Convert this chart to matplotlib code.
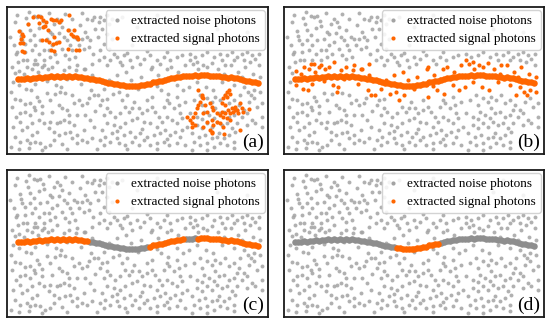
import numpy as np
import matplotlib
matplotlib.use("Agg")
import matplotlib.pyplot as plt
from matplotlib.lines import Line2D

plt.rcParams['font.family'] = ['Liberation Serif', 'DejaVu Serif']

# panel coordinates in pixels: x to the right, y downward from the top of the frame
noise_pts = [
    # upper left
    (13,24),(14,29),(15,33),(18,37),(21,17),(23,23),(27,9),(30,10),(33,9),(36,14),(37,19),(32,21),
    (27,28),(23,33),(33,33),(40,32),(43,25),(47,17),(50,12),(53,15),(55,20),(50,35),(45,38),(42,43),
    (37,43),(32,47),(25,43),(18,45),(16,53),(20,53),(28,53),(37,53),(48,47),(55,42),(60,33),(62,23),
    (67,30),(70,32),(75,32),(80,30),(83,33),(80,12),(85,13),(87,10),(72,38),(77,42),(82,40),(65,43),
    (62,52),(58,48),(43,50),(8,15),(10,45),(5,60),(65,12),(73,18),(88,22),(70,58),(85,57),(45,60),
    (25,62),(12,64),(57,63),(78,62),(35,60),(3,30),(6,75),(4,85),(5,100),(6,120),(4,140),
    (10,8),(19,11),(42,6),(58,7),(75,6),(91,30),(7,38),(28,38),(52,26),(68,50),(86,47),(11,55),
    (30,57),(50,55),(22,5),(45,27),(57,30),(78,25),(92,15),(63,38),(20,60),(9,47),(8,66),
    # upper middle / under legend
    (93,10),(97,13),(100,8),(102,17),(105,12),(95,22),(100,27),(105,32),(97,37),(93,43),(102,42),
    (107,47),(97,50),(103,53),(110,50),(117,48),(123,53),(130,50),(137,52),(143,48),(150,53),(157,50),
    (163,53),(170,50),(175,48),(113,55),(133,57),(153,57),(100,58),(92,53),(115,10),(130,20),(150,8),
    (165,30),(185,15),(200,35),(220,10),(240,25),(125,38),(210,22),
    (115,58),(125,60),(145,60),(160,62),(178,58),(200,60),(218,58),(238,60),(252,58),(205,56),
    (183,53),(160,45),(140,44),(120,46),(252,47),
    # upper right
    (183,47),(188,50),(195,48),(200,45),(207,50),(213,47),(220,48),(225,45),(230,50),(235,47),
    (240,45),(245,48),(248,52),(227,53),(237,53),(243,55),(190,55),(215,53),
    # around the track
    (19,82),(24,83),(27,57),(37,58),(41,62),(31,65),(17,67),(12,78),(49,78),(54,80),(62,60),(69,63),
    (77,62),(74,77),(84,83),(91,88),(97,82),(102,73),(106,87),(112,85),(119,65),(124,73),(131,82),
    (134,70),(139,77),(144,62),(151,68),(154,83),(161,87),(157,72),(164,60),(171,65),(176,83),
    (182,80),(186,57),(191,62),(196,58),(199,80),(206,83),(211,62),(217,67),(224,58),(227,78),
    (231,65),(237,80),(241,85),(244,88),(246,67),(247,83),
    (85,68),(95,75),(110,68),(150,79),(170,78),(190,75),(215,75),(235,70),(253,70),(40,74),
    (28,77),(60,72),(8,92),(30,90),(65,88),(120,88),(145,90),(170,90),(208,90),(233,88),
    # lower left
    (13,93),(18,97),(23,96),(27,100),(32,94),(35,99),(40,86),(43,93),(48,87),(53,85),(58,86),(52,98),
    (55,101),(60,103),(67,96),(72,93),(75,98),(80,96),(82,91),(87,88),(13,106),(18,105),(23,108),
    (28,103),(35,106),(32,113),(25,116),(20,120),(15,123),(13,115),(37,116),(43,115),(42,121),
    (47,125),(50,116),(53,115),(57,113),(62,115),(67,118),(63,125),(58,126),(52,128),(70,128),
    (77,123),(80,135),(75,133),(70,136),(65,131),(47,133),(43,138),(38,140),(33,136),(28,135),
    (23,136),(20,133),(13,135),(22,141),(83,113),(87,120),(85,131),
    (9,110),(8,130),(30,125),(55,137),(62,108),(78,108),(88,104),(45,105),(25,128),(70,108),
    (60,142),(35,143),(12,142),(90,142),
    # lower middle
    (93,98),(95,93),(100,101),(97,108),(103,105),(108,110),(113,106),(118,100),(122,105),(125,101),
    (127,95),(132,101),(135,106),(140,103),(145,100),(148,105),(152,110),(157,100),(162,96),(167,101),
    (172,98),(173,106),(175,111),(170,116),(165,113),(160,110),(155,115),(150,120),(143,116),
    (137,115),(130,111),(125,113),(118,116),(113,120),(107,118),(100,116),(95,123),(98,130),
    (105,126),(110,131),(117,128),(123,125),(128,130),(133,126),(140,130),(147,128),(153,126),
    (158,123),(163,128),(168,125),(173,130),(170,136),(162,138),(157,135),(150,136),(143,138),
    (137,133),(132,138),(125,135),(118,138),(112,136),(103,135),(97,138),(93,133),
    (115,93),(140,93),(160,93),(178,95),(100,92),(110,124),(135,122),(160,132),(175,123),
    (120,142),(150,142),(178,138),(180,120),
    # lower right
    (187,93),(193,88),(195,98),(200,91),(205,95),(208,101),(213,93),(218,88),(222,96),(227,93),
    (232,98),(237,103),(242,95),(247,91),(250,100),(255,96),(183,106),(190,110),(197,105),(202,108),
    (207,111),(212,106),(217,105),(222,110),(227,108),(230,103),(235,110),(240,106),(245,113),
    (248,116),(190,118),(195,121),(200,116),(205,120),(210,115),(215,118),(220,116),(225,121),
    (230,116),(240,118),(185,126),(192,130),(198,128),(205,131),(212,126),(217,131),(222,128),
    (227,135),(187,135),(193,138),(200,136),(207,140),(213,136),(220,138),(227,141),
    (255,110),(253,85),(255,120),(200,143),(185,143),(195,112),(228,125),(210,130),
]

# ground track (signal band)
track_x = [11,14,17,20,23,26,29,32,35,38,41,44,47,50,53,56,59,62,65,68,71,74,77,80,83,86,89,
           92,95,98,101,104,107,110,113,116,119,122,125,128,131,134,137,140,143,146,149,152,155,
           158,161,164,167,170,173,176,179,182,185,188,191,194,197,200,203,206,209,212,215,218,
           221,224,227,230,233,236,239,242,245,248,251]
track_y = [72.3,71.6,72.0,71.2,71.5,70.6,71.0,70.2,70.5,69.8,70.1,69.4,69.9,69.2,69.6,69.0,69.5,
           69.1,69.6,69.4,70.0,70.1,70.9,71.0,71.9,72.1,72.9,73.3,74.3,74.6,75.6,75.9,76.9,77.2,
           78.1,78.2,78.9,78.7,79.3,78.8,78.9,78.1,77.9,76.9,76.6,75.4,75.2,73.9,73.6,72.6,72.2,
           71.2,71.0,70.1,70.0,69.2,69.3,68.6,68.8,68.2,68.5,68.0,68.4,68.1,68.6,68.5,69.1,69.0,
           69.8,69.6,70.5,70.4,71.4,71.3,72.4,72.5,73.5,73.6,74.7,74.8,75.6]

# false signal clusters in (a)
cluster_pts = [
    (12,24),(15,27),(16,29),(14,32),(13,36),(16,36),(15,44),(21,17),(26,10),(31,9),(34,10),(36,13),
    (32,16),(39,15),(38,19),(41,23),(36,20),(44,12),(46,13),(49,13),(52,15),(54,13),(47,30),(42,35),
    (46,37),(49,36),(44,43),(47,44),(52,35),(61,42),(62,8),(61,23),(64,27),(66,29),(69,30),(71,32),
    (67,23),(69,43),(35,33),(39,33),(70,30),(72,43),(17,45),
    (191,83),(195,88),(196,91),(193,95),(191,98),(190,101),(188,106),(186,110),(183,113),(185,116),
    (188,118),(196,106),(200,105),(198,98),(203,96),(205,100),(206,103),(210,106),(213,108),
    (216,110),(215,105),(218,106),(220,111),(221,103),(223,106),(225,101),(226,105),(228,100),
    (230,103),(231,106),(235,101),(236,105),(218,88),(220,90),(216,91),(215,96),(218,98),(205,113),
    (206,118),(213,116),(216,120),(203,123),(205,126),(210,115),(200,115),(196,120),(195,90),
    (223,113),(233,96),(220,85),(180,110),(185,120),(205,125),(217,127),(233,123),(242,102),
    (228,103),(223,87),(222,83),
]

# x-ranges of the track that are classified as noise in (c), and as signal in (d)
c_missed = [(82, 142), (178, 188)]
d_found = (112, 157)
b_halfwidth = 16

panel_labels = ['(a)', '(b)', '(c)', '(d)']

noise_x = np.array([p[0] for p in noise_pts])
noise_y = np.array([p[1] for p in noise_pts])
clus_x = np.array([p[0] for p in cluster_pts])
clus_y = np.array([p[1] for p in cluster_pts])
tx = np.array(track_x)
ty = np.array(track_y)

GRAY = '#a3a3a3'
ORANGE = '#ff6600'
W, H = 261, 147

fig = plt.figure(figsize=(5.5, 3.25), dpi=100)
rects = [
    [7/550, 1-154/325, 261/550, 147/325],
    [284/550, 1-154/325, 260/550, 147/325],
    [7/550, 1-317/325, 261/550, 147/325],
    [284/550, 1-317/325, 260/550, 147/325],
]

for i, r in enumerate(rects):
    ax = fig.add_axes(r)
    ax.set_xlim(0, W)
    ax.set_ylim(H, 0)
    ax.set_xticks([])
    ax.set_yticks([])
    for s in ax.spines.values():
        s.set_linewidth(1.3)
        s.set_color('#1a1a1a')

    nmask = np.zeros(len(noise_x), bool)
    tmask = np.ones(len(tx), bool)
    if i == 1:
        dist = np.abs(noise_y - np.interp(noise_x, tx, ty))
        nmask = (dist < b_halfwidth) & (noise_x > 8) & (noise_x < 255)
    elif i == 2:
        for lo, hi in c_missed:
            tmask &= ~((tx >= lo) & (tx <= hi))
    elif i == 3:
        tmask = (tx >= d_found[0]) & (tx <= d_found[1])

    ax.scatter(noise_x[~nmask], noise_y[~nmask], s=8, c=GRAY, alpha=0.85, linewidths=0)
    ax.scatter(tx[~tmask], ty[~tmask], s=22, c='#8e8e8e', linewidths=0)
    ax.scatter(tx[tmask], ty[tmask], s=22, c=ORANGE, linewidths=0)
    ax.scatter(noise_x[nmask], noise_y[nmask], s=9, c=ORANGE, linewidths=0)
    if i == 0:
        ax.scatter(clus_x, clus_y, s=9, c=ORANGE, linewidths=0)

    handles = [
        Line2D([], [], ls='none', marker='o', ms=3.0, mfc=GRAY, mec='none'),
        Line2D([], [], ls='none', marker='o', ms=3.0, mfc=ORANGE, mec='none'),
    ]
    ax.legend(handles, ['extracted noise photons', 'extracted signal photons'],
              loc='upper right', fontsize=9.5, frameon=True, framealpha=0.85,
              edgecolor='#cccccc', borderaxespad=0.25, handlelength=1.0,
              handletextpad=0.6, borderpad=0.35, labelspacing=0.45)
    ax.text(0.985, 0.02, panel_labels[i], transform=ax.transAxes,
            ha='right', va='bottom', fontsize=14)

fig.savefig('out.png', dpi=100)
